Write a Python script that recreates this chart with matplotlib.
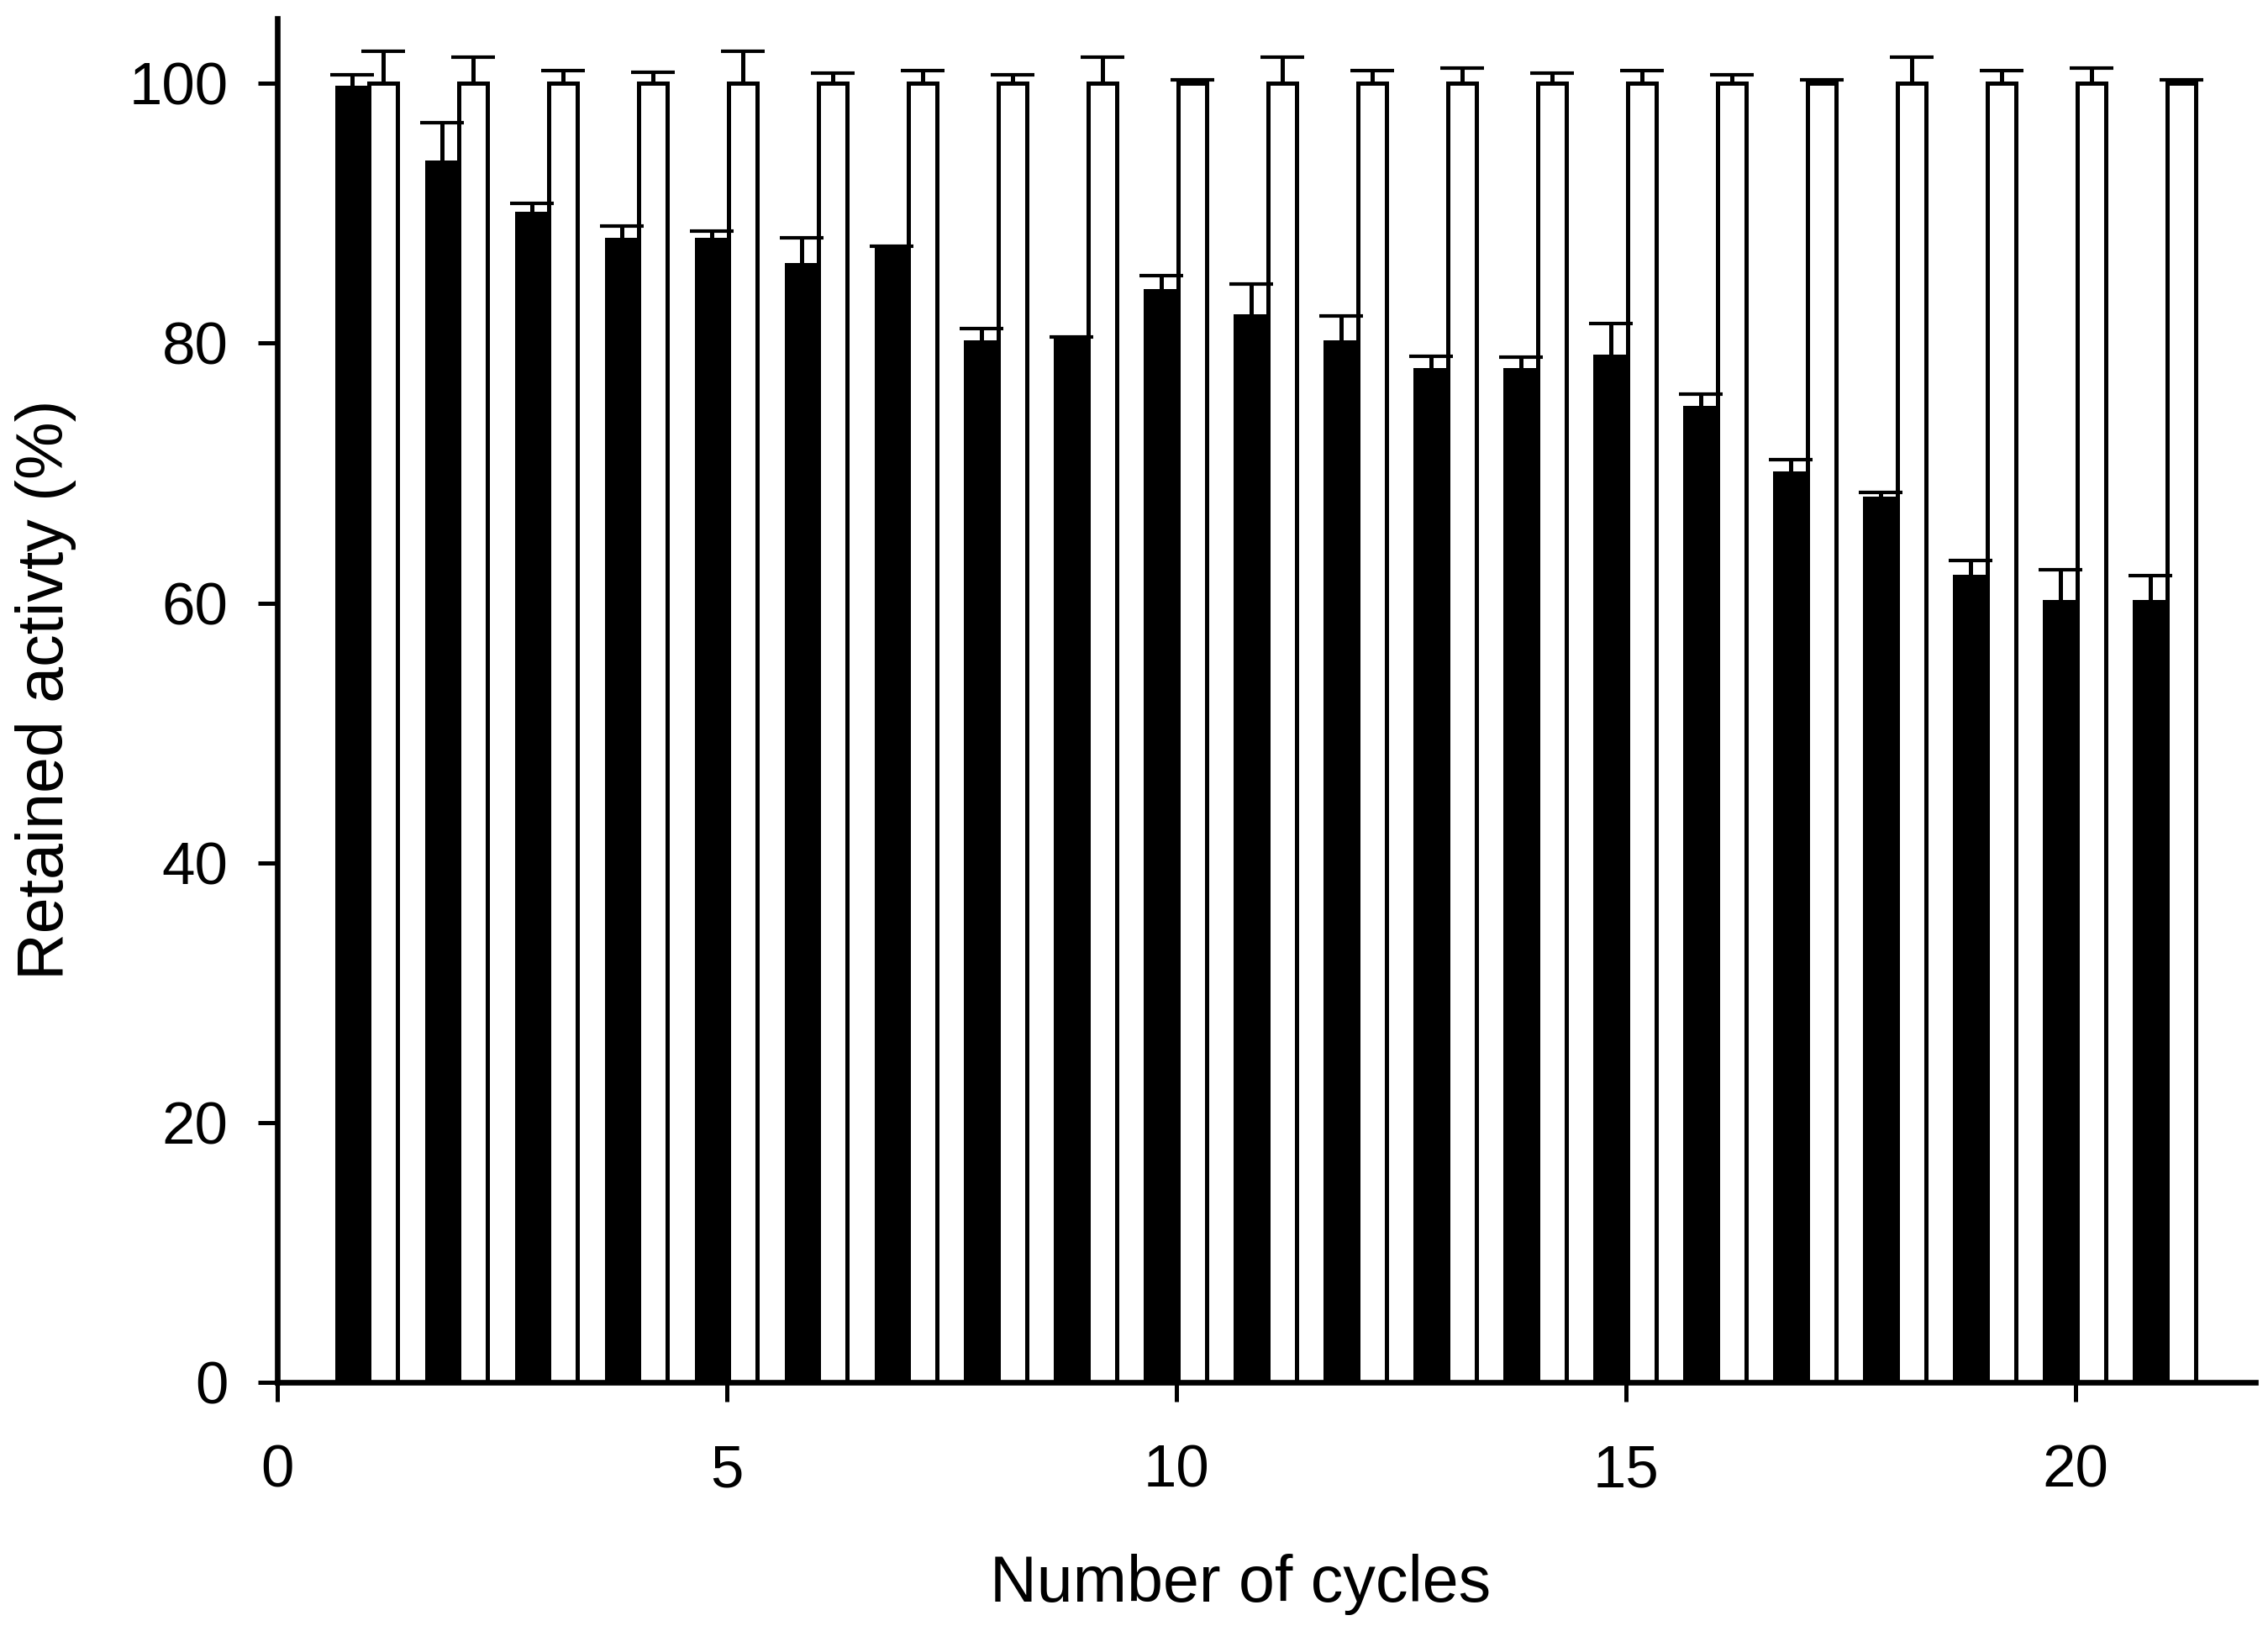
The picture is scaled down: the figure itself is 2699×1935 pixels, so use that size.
import numpy as np
import matplotlib
matplotlib.use('Agg')
import matplotlib.pyplot as plt

plt.rcParams['font.family'] = ['Liberation Sans', 'DejaVu Sans']

# data
cycles = np.arange(1, 22)
free_act = [99.8, 94.1, 90.1, 88.1, 88.1, 86.2, 87.4, 80.2, 80.4, 84.2, 82.2,
            80.2, 78.1, 78.1, 79.1, 75.2, 70.1, 68.2, 62.2, 60.2, 60.2]
free_err = [0.9, 2.9, 0.7, 0.9, 0.55, 1.9, 0.1, 0.9, 0.1, 1.0, 2.35,
            1.9, 0.9, 0.8, 2.4, 0.9, 0.95, 0.3, 1.05, 2.35, 1.9]
ctrl_act = [100] * 21
ctrl_err = [2.5, 2.0, 1.0, 0.86, 2.5, 0.8, 1.0, 0.7, 2.0, 0.3, 2.0,
            1.0, 1.2, 0.8, 1.0, 0.7, 0.3, 2.0, 1.0, 1.2, 0.3]

fig = plt.figure(figsize=(2699/300, 1935/300), dpi=300)
ax = fig.add_axes([0.1223, 0.1499, 0.9944-0.1223, 0.9886-0.1499])

wb = 0.38
ww = 0.32
xb = cycles - 0.36
xw = cycles + 0.02
ax.bar(xb, free_act, width=wb, align='edge', color='black', edgecolor='black', linewidth=0, zorder=2)
ax.bar(xw, ctrl_act, width=ww, align='edge', color='white', edgecolor='black', linewidth=1.2, zorder=2)

for xs, w, vals, errs in [(xb, wb, free_act, free_err), (xw, ww, ctrl_act, ctrl_err)]:
    eb = ax.errorbar(xs + w/2, vals, yerr=[np.zeros(len(errs)), errs], fmt='none',
                     ecolor='black', elinewidth=1.2, capsize=6.2, capthick=1.0, zorder=3)
    eb[1][0].set_visible(False)

ax.set_xlim(0, 22)
ax.set_ylim(0, 105)
ax.set_xticks([0, 5, 10, 15, 20])
ax.set_yticks([0, 20, 40, 60, 80, 100])
ax.spines['top'].set_visible(False)
ax.spines['right'].set_visible(False)
ax.spines['left'].set_linewidth(1.6)
ax.spines['bottom'].set_linewidth(1.6)
ax.tick_params(axis='both', direction='out', length=5.6, width=1.2, labelsize=17)
ax.tick_params(axis='x', pad=12)
ax.tick_params(axis='y', pad=8.5)

ax.set_xlabel('Number of cycles', fontsize=18.5)
ax.set_ylabel('Retained activty (%)', fontsize=18.5)
ax.xaxis.set_label_coords(0.487, -0.148)
ax.xaxis.label.set_va('center')
ax.yaxis.set_label_coords(-0.117, 0.508)
ax.yaxis.label.set_va('center')

fig.savefig('out.png', dpi=300)
